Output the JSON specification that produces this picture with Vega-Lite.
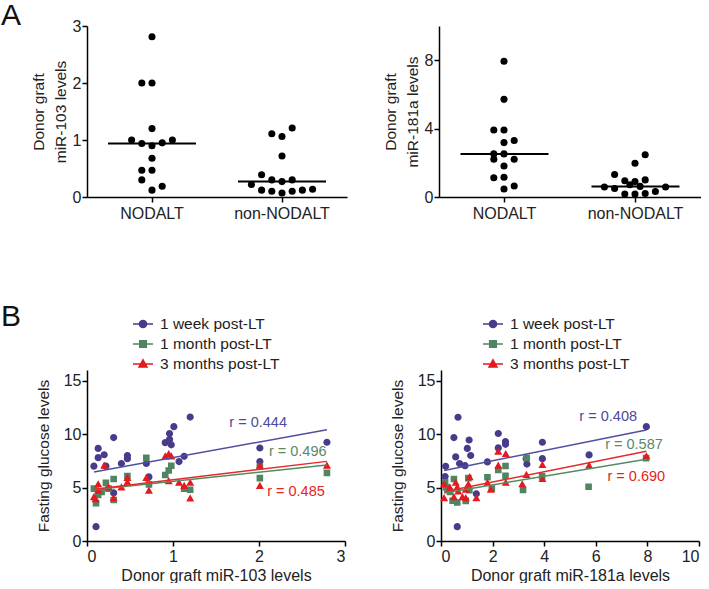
{
  "$schema": "https://vega.github.io/schema/vega-lite/v6.json",
  "padding": {"left": 1, "top": 1, "right": 0, "bottom": 0},
  "bounds": "flush",
  "config": {
    "font": "Liberation Sans",
    "view": {"stroke": null},
    "axis": {"domainColor": "#000", "domainWidth": 1.5, "tickColor": "#000", "tickWidth": 1.5, "tickSize": 5, "labelFontSize": 16, "labelColor": "#222", "titleFontSize": 15.5, "titleFontWeight": "normal", "titleColor": "#222", "grid": false, "labelFont": "Liberation Sans", "titleFont": "Liberation Sans", "labelOverlap": false},
    "title": {"fontSize": 30, "fontWeight": "normal", "font": "Liberation Sans", "color": "#111"},
    "legend": {"labelFont": "Liberation Sans"}
  },
  "datasets": {
    "a103": [
      {"group": "NODALT", "value": 2.81, "col": 0},
      {"group": "NODALT", "value": 2.0, "col": -1},
      {"group": "NODALT", "value": 2.0, "col": 0},
      {"group": "NODALT", "value": 1.2, "col": 0},
      {"group": "NODALT", "value": 1.0, "col": -2},
      {"group": "NODALT", "value": 0.94, "col": -1},
      {"group": "NODALT", "value": 0.9, "col": 0},
      {"group": "NODALT", "value": 0.95, "col": 1},
      {"group": "NODALT", "value": 1.0, "col": 2},
      {"group": "NODALT", "value": 0.68, "col": 0},
      {"group": "NODALT", "value": 0.47, "col": -1},
      {"group": "NODALT", "value": 0.47, "col": 0},
      {"group": "NODALT", "value": 0.3, "col": -1},
      {"group": "NODALT", "value": 0.12, "col": 0},
      {"group": "NODALT", "value": 0.19, "col": 1},
      {"group": "non-NODALT", "value": 1.11, "col": -1},
      {"group": "non-NODALT", "value": 1.06, "col": 0},
      {"group": "non-NODALT", "value": 1.21, "col": 1},
      {"group": "non-NODALT", "value": 0.72, "col": 0},
      {"group": "non-NODALT", "value": 0.39, "col": -2},
      {"group": "non-NODALT", "value": 0.3, "col": -1},
      {"group": "non-NODALT", "value": 0.27, "col": 0},
      {"group": "non-NODALT", "value": 0.3, "col": 1},
      {"group": "non-NODALT", "value": 0.22, "col": -3},
      {"group": "non-NODALT", "value": 0.12, "col": -2},
      {"group": "non-NODALT", "value": 0.1, "col": -1},
      {"group": "non-NODALT", "value": 0.07, "col": 0},
      {"group": "non-NODALT", "value": 0.1, "col": 1},
      {"group": "non-NODALT", "value": 0.12, "col": 2},
      {"group": "non-NODALT", "value": 0.135, "col": 3}
    ],
    "a181": [
      {"group": "NODALT", "value": 7.94, "col": 0},
      {"group": "NODALT", "value": 5.71, "col": 0},
      {"group": "NODALT", "value": 3.92, "col": -1},
      {"group": "NODALT", "value": 3.92, "col": 0},
      {"group": "NODALT", "value": 3.18, "col": 0},
      {"group": "NODALT", "value": 3.3, "col": 1},
      {"group": "NODALT", "value": 2.52, "col": -1},
      {"group": "NODALT", "value": 2.52, "col": 0},
      {"group": "NODALT", "value": 2.21, "col": -1},
      {"group": "NODALT", "value": 2.21, "col": 1},
      {"group": "NODALT", "value": 1.81, "col": 0},
      {"group": "NODALT", "value": 1.13, "col": -1},
      {"group": "NODALT", "value": 1.15, "col": 0},
      {"group": "NODALT", "value": 0.47, "col": 0},
      {"group": "NODALT", "value": 0.64, "col": 1},
      {"group": "non-NODALT", "value": 2.47, "col": 1},
      {"group": "non-NODALT", "value": 1.97, "col": 0},
      {"group": "non-NODALT", "value": 1.32, "col": -2},
      {"group": "non-NODALT", "value": 0.95, "col": -1},
      {"group": "non-NODALT", "value": 0.9, "col": 0},
      {"group": "non-NODALT", "value": 1.0, "col": 1},
      {"group": "non-NODALT", "value": 0.58, "col": -3},
      {"group": "non-NODALT", "value": 0.5, "col": -2},
      {"group": "non-NODALT", "value": 0.72, "col": -0.5},
      {"group": "non-NODALT", "value": 0.62, "col": 0.5},
      {"group": "non-NODALT", "value": 0.58, "col": 3},
      {"group": "non-NODALT", "value": 0.18, "col": -1},
      {"group": "non-NODALT", "value": 0.18, "col": 0},
      {"group": "non-NODALT", "value": 0.2, "col": 1},
      {"group": "non-NODALT", "value": 0.32, "col": 2}
    ],
    "bpts": [
      {"panel": "miR-103", "series": "1 week post-LT", "x": 0.08, "y": 7.0},
      {"panel": "miR-103", "series": "1 week post-LT", "x": 0.13, "y": 8.66},
      {"panel": "miR-103", "series": "1 week post-LT", "x": 0.13, "y": 7.8},
      {"panel": "miR-103", "series": "1 week post-LT", "x": 0.2, "y": 8.07},
      {"panel": "miR-103", "series": "1 week post-LT", "x": 0.22, "y": 7.0},
      {"panel": "miR-103", "series": "1 week post-LT", "x": 0.31, "y": 9.68},
      {"panel": "miR-103", "series": "1 week post-LT", "x": 0.4, "y": 7.25},
      {"panel": "miR-103", "series": "1 week post-LT", "x": 0.47, "y": 8.0},
      {"panel": "miR-103", "series": "1 week post-LT", "x": 0.47, "y": 7.7},
      {"panel": "miR-103", "series": "1 week post-LT", "x": 0.69, "y": 7.25},
      {"panel": "miR-103", "series": "1 week post-LT", "x": 0.72, "y": 6.0},
      {"panel": "miR-103", "series": "1 week post-LT", "x": 0.91, "y": 9.2},
      {"panel": "miR-103", "series": "1 week post-LT", "x": 0.96, "y": 9.5},
      {"panel": "miR-103", "series": "1 week post-LT", "x": 0.96, "y": 10.05},
      {"panel": "miR-103", "series": "1 week post-LT", "x": 0.98, "y": 9.0},
      {"panel": "miR-103", "series": "1 week post-LT", "x": 1.01, "y": 10.7},
      {"panel": "miR-103", "series": "1 week post-LT", "x": 1.07, "y": 7.43},
      {"panel": "miR-103", "series": "1 week post-LT", "x": 1.13, "y": 7.92},
      {"panel": "miR-103", "series": "1 week post-LT", "x": 1.2, "y": 11.6},
      {"panel": "miR-103", "series": "1 week post-LT", "x": 0.105, "y": 1.34},
      {"panel": "miR-103", "series": "1 week post-LT", "x": 0.31, "y": 4.5},
      {"panel": "miR-103", "series": "1 week post-LT", "x": 2.01, "y": 8.7},
      {"panel": "miR-103", "series": "1 week post-LT", "x": 2.01, "y": 7.43},
      {"panel": "miR-103", "series": "1 week post-LT", "x": 2.79, "y": 9.24},
      {"panel": "miR-103", "series": "1 month post-LT", "x": 0.08, "y": 4.9},
      {"panel": "miR-103", "series": "1 month post-LT", "x": 0.105, "y": 3.54},
      {"panel": "miR-103", "series": "1 month post-LT", "x": 0.13, "y": 4.3},
      {"panel": "miR-103", "series": "1 month post-LT", "x": 0.17, "y": 4.6},
      {"panel": "miR-103", "series": "1 month post-LT", "x": 0.22, "y": 5.44},
      {"panel": "miR-103", "series": "1 month post-LT", "x": 0.25, "y": 4.9},
      {"panel": "miR-103", "series": "1 month post-LT", "x": 0.31, "y": 5.8},
      {"panel": "miR-103", "series": "1 month post-LT", "x": 0.31, "y": 3.83},
      {"panel": "miR-103", "series": "1 month post-LT", "x": 0.47, "y": 6.08},
      {"panel": "miR-103", "series": "1 month post-LT", "x": 0.69, "y": 7.78},
      {"panel": "miR-103", "series": "1 month post-LT", "x": 0.72, "y": 5.3},
      {"panel": "miR-103", "series": "1 month post-LT", "x": 0.91, "y": 6.17},
      {"panel": "miR-103", "series": "1 month post-LT", "x": 0.95, "y": 6.6},
      {"panel": "miR-103", "series": "1 month post-LT", "x": 0.98, "y": 7.04},
      {"panel": "miR-103", "series": "1 month post-LT", "x": 1.13, "y": 4.9},
      {"panel": "miR-103", "series": "1 month post-LT", "x": 1.2, "y": 4.8},
      {"panel": "miR-103", "series": "1 month post-LT", "x": 2.01, "y": 5.88},
      {"panel": "miR-103", "series": "1 month post-LT", "x": 2.01, "y": 6.95},
      {"panel": "miR-103", "series": "1 month post-LT", "x": 2.79, "y": 6.37},
      {"panel": "miR-103", "series": "3 months post-LT", "x": 0.08, "y": 4.1},
      {"panel": "miR-103", "series": "3 months post-LT", "x": 0.1, "y": 3.9},
      {"panel": "miR-103", "series": "3 months post-LT", "x": 0.13, "y": 4.7},
      {"panel": "miR-103", "series": "3 months post-LT", "x": 0.13, "y": 5.3},
      {"panel": "miR-103", "series": "3 months post-LT", "x": 0.2, "y": 7.04},
      {"panel": "miR-103", "series": "3 months post-LT", "x": 0.25, "y": 5.0},
      {"panel": "miR-103", "series": "3 months post-LT", "x": 0.31, "y": 4.0},
      {"panel": "miR-103", "series": "3 months post-LT", "x": 0.4, "y": 5.0},
      {"panel": "miR-103", "series": "3 months post-LT", "x": 0.47, "y": 5.9},
      {"panel": "miR-103", "series": "3 months post-LT", "x": 0.47, "y": 5.5},
      {"panel": "miR-103", "series": "3 months post-LT", "x": 0.69, "y": 5.9},
      {"panel": "miR-103", "series": "3 months post-LT", "x": 0.72, "y": 4.7},
      {"panel": "miR-103", "series": "3 months post-LT", "x": 0.91, "y": 7.9},
      {"panel": "miR-103", "series": "3 months post-LT", "x": 0.95, "y": 8.13},
      {"panel": "miR-103", "series": "3 months post-LT", "x": 0.98, "y": 7.9},
      {"panel": "miR-103", "series": "3 months post-LT", "x": 0.95, "y": 5.6},
      {"panel": "miR-103", "series": "3 months post-LT", "x": 1.07, "y": 5.44},
      {"panel": "miR-103", "series": "3 months post-LT", "x": 1.13, "y": 5.15},
      {"panel": "miR-103", "series": "3 months post-LT", "x": 1.2, "y": 5.44},
      {"panel": "miR-103", "series": "3 months post-LT", "x": 1.2, "y": 3.97},
      {"panel": "miR-103", "series": "3 months post-LT", "x": 2.01, "y": 7.04},
      {"panel": "miR-103", "series": "3 months post-LT", "x": 2.01, "y": 5.15},
      {"panel": "miR-103", "series": "3 months post-LT", "x": 2.79, "y": 7.04},
      {"panel": "miR-181a", "series": "1 week post-LT", "x": 0.18, "y": 6.99},
      {"panel": "miR-181a", "series": "1 week post-LT", "x": 0.16, "y": 6.03},
      {"panel": "miR-181a", "series": "1 week post-LT", "x": 0.66, "y": 11.58},
      {"panel": "miR-181a", "series": "1 week post-LT", "x": 0.5, "y": 9.68},
      {"panel": "miR-181a", "series": "1 week post-LT", "x": 0.57, "y": 7.87},
      {"panel": "miR-181a", "series": "1 week post-LT", "x": 0.72, "y": 7.25},
      {"panel": "miR-181a", "series": "1 week post-LT", "x": 0.93, "y": 7.05},
      {"panel": "miR-181a", "series": "1 week post-LT", "x": 1.02, "y": 8.66},
      {"panel": "miR-181a", "series": "1 week post-LT", "x": 1.09, "y": 9.45},
      {"panel": "miR-181a", "series": "1 week post-LT", "x": 1.15, "y": 8.0},
      {"panel": "miR-181a", "series": "1 week post-LT", "x": 1.37, "y": 4.41},
      {"panel": "miR-181a", "series": "1 week post-LT", "x": 0.63, "y": 1.34},
      {"panel": "miR-181a", "series": "1 week post-LT", "x": 1.8, "y": 7.4},
      {"panel": "miR-181a", "series": "1 week post-LT", "x": 2.22, "y": 10.06},
      {"panel": "miR-181a", "series": "1 week post-LT", "x": 2.22, "y": 8.71},
      {"panel": "miR-181a", "series": "1 week post-LT", "x": 2.5, "y": 9.3},
      {"panel": "miR-181a", "series": "1 week post-LT", "x": 2.5, "y": 9.05},
      {"panel": "miR-181a", "series": "1 week post-LT", "x": 3.3, "y": 7.7},
      {"panel": "miR-181a", "series": "1 week post-LT", "x": 3.33, "y": 7.2},
      {"panel": "miR-181a", "series": "1 week post-LT", "x": 3.93, "y": 9.24},
      {"panel": "miR-181a", "series": "1 week post-LT", "x": 3.93, "y": 7.7},
      {"panel": "miR-181a", "series": "1 week post-LT", "x": 5.74, "y": 8.05},
      {"panel": "miR-181a", "series": "1 week post-LT", "x": 7.96, "y": 10.7},
      {"panel": "miR-181a", "series": "1 month post-LT", "x": 0.16, "y": 5.5},
      {"panel": "miR-181a", "series": "1 month post-LT", "x": 0.19, "y": 5.0},
      {"panel": "miR-181a", "series": "1 month post-LT", "x": 0.35, "y": 4.6},
      {"panel": "miR-181a", "series": "1 month post-LT", "x": 0.5, "y": 5.8},
      {"panel": "miR-181a", "series": "1 month post-LT", "x": 0.45, "y": 3.76},
      {"panel": "miR-181a", "series": "1 month post-LT", "x": 0.63, "y": 3.6},
      {"panel": "miR-181a", "series": "1 month post-LT", "x": 0.96, "y": 3.75},
      {"panel": "miR-181a", "series": "1 month post-LT", "x": 1.06, "y": 5.88},
      {"panel": "miR-181a", "series": "1 month post-LT", "x": 1.1, "y": 4.75},
      {"panel": "miR-181a", "series": "1 month post-LT", "x": 1.8, "y": 5.96},
      {"panel": "miR-181a", "series": "1 month post-LT", "x": 1.97, "y": 4.9},
      {"panel": "miR-181a", "series": "1 month post-LT", "x": 2.22, "y": 6.65},
      {"panel": "miR-181a", "series": "1 month post-LT", "x": 2.5, "y": 7.02},
      {"panel": "miR-181a", "series": "1 month post-LT", "x": 2.5, "y": 6.1},
      {"panel": "miR-181a", "series": "1 month post-LT", "x": 3.18, "y": 4.78},
      {"panel": "miR-181a", "series": "1 month post-LT", "x": 3.32, "y": 7.78},
      {"panel": "miR-181a", "series": "1 month post-LT", "x": 3.92, "y": 6.05},
      {"panel": "miR-181a", "series": "1 month post-LT", "x": 5.72, "y": 5.08},
      {"panel": "miR-181a", "series": "1 month post-LT", "x": 7.95, "y": 7.75},
      {"panel": "miR-181a", "series": "3 months post-LT", "x": 0.12, "y": 5.3},
      {"panel": "miR-181a", "series": "3 months post-LT", "x": 0.12, "y": 4.0},
      {"panel": "miR-181a", "series": "3 months post-LT", "x": 0.34, "y": 5.0},
      {"panel": "miR-181a", "series": "3 months post-LT", "x": 0.5, "y": 4.1},
      {"panel": "miR-181a", "series": "3 months post-LT", "x": 0.57, "y": 5.44},
      {"panel": "miR-181a", "series": "3 months post-LT", "x": 0.63, "y": 5.0},
      {"panel": "miR-181a", "series": "3 months post-LT", "x": 0.67, "y": 4.62},
      {"panel": "miR-181a", "series": "3 months post-LT", "x": 0.83, "y": 4.1},
      {"panel": "miR-181a", "series": "3 months post-LT", "x": 0.96, "y": 4.0},
      {"panel": "miR-181a", "series": "3 months post-LT", "x": 0.96, "y": 4.8},
      {"panel": "miR-181a", "series": "3 months post-LT", "x": 1.06, "y": 5.3},
      {"panel": "miR-181a", "series": "3 months post-LT", "x": 1.11, "y": 5.96},
      {"panel": "miR-181a", "series": "3 months post-LT", "x": 1.37, "y": 4.0},
      {"panel": "miR-181a", "series": "3 months post-LT", "x": 1.8, "y": 5.44},
      {"panel": "miR-181a", "series": "3 months post-LT", "x": 1.93, "y": 4.8},
      {"panel": "miR-181a", "series": "3 months post-LT", "x": 2.22, "y": 8.36},
      {"panel": "miR-181a", "series": "3 months post-LT", "x": 2.22, "y": 7.05},
      {"panel": "miR-181a", "series": "3 months post-LT", "x": 2.51, "y": 8.13},
      {"panel": "miR-181a", "series": "3 months post-LT", "x": 2.51, "y": 5.44},
      {"panel": "miR-181a", "series": "3 months post-LT", "x": 3.15, "y": 5.3},
      {"panel": "miR-181a", "series": "3 months post-LT", "x": 3.31, "y": 6.17},
      {"panel": "miR-181a", "series": "3 months post-LT", "x": 3.93, "y": 7.1},
      {"panel": "miR-181a", "series": "3 months post-LT", "x": 3.93, "y": 5.79},
      {"panel": "miR-181a", "series": "3 months post-LT", "x": 5.74, "y": 7.05},
      {"panel": "miR-181a", "series": "3 months post-LT", "x": 7.96, "y": 7.92}
    ],
    "fits": [
      {"panel": "miR-103", "series": "1 week post-LT", "x": 0.08, "y": 6.46},
      {"panel": "miR-103", "series": "1 week post-LT", "x": 2.79, "y": 10.41},
      {"panel": "miR-103", "series": "1 month post-LT", "x": 0.08, "y": 4.8},
      {"panel": "miR-103", "series": "1 month post-LT", "x": 2.79, "y": 7.12},
      {"panel": "miR-103", "series": "3 months post-LT", "x": 0.08, "y": 4.85},
      {"panel": "miR-103", "series": "3 months post-LT", "x": 2.79, "y": 7.45},
      {"panel": "miR-181a", "series": "1 week post-LT", "x": 0.12, "y": 6.6},
      {"panel": "miR-181a", "series": "1 week post-LT", "x": 7.96, "y": 10.38},
      {"panel": "miR-181a", "series": "1 month post-LT", "x": 0.12, "y": 4.5},
      {"panel": "miR-181a", "series": "1 month post-LT", "x": 7.96, "y": 7.65},
      {"panel": "miR-181a", "series": "3 months post-LT", "x": 0.12, "y": 4.6},
      {"panel": "miR-181a", "series": "3 months post-LT", "x": 7.96, "y": 8.4}
    ],
    "rlab": [
      {"panel": "miR-103", "series": "1 week post-LT", "x": 1.99, "y": 11.0, "label": "r = 0.444"},
      {"panel": "miR-103", "series": "1 month post-LT", "x": 2.45, "y": 8.36, "label": "r = 0.496"},
      {"panel": "miR-103", "series": "3 months post-LT", "x": 2.43, "y": 4.63, "label": "r = 0.485"},
      {"panel": "miR-181a", "series": "1 week post-LT", "x": 6.48, "y": 11.56, "label": "r = 0.408"},
      {"panel": "miR-181a", "series": "1 month post-LT", "x": 7.48, "y": 8.94, "label": "r = 0.587"},
      {"panel": "miR-181a", "series": "3 months post-LT", "x": 7.57, "y": 6.03, "label": "r = 0.690"}
    ]
  },
  "spacing": 344,
  "vconcat": [
    {
      "bounds": "flush",
      "spacing": 92,
      "hconcat": [
        {
          "width": 260, "height": 171,
          "title": {"text": "A", "orient": "top", "frame": "group", "anchor": "start", "align": "left", "baseline": "alphabetic", "offset": -31, "dx": -86, "dy": 6},
          "data": {"name": "a103"},
          "layer": [
            {
              "mark": {"type": "circle", "size": 50, "color": "#000", "opacity": 1},
              "encoding": {
                "x": {"field": "group", "type": "nominal", "sort": ["NODALT", "non-NODALT"], "scale": {"paddingInner": 0, "paddingOuter": 0}, "axis": {"title": null, "labelAngle": 0, "labelPadding": 3}},
                "xOffset": {"field": "col", "type": "quantitative", "scale": {"domain": [-6.375, 6.375]}},
                "y": {"field": "value", "type": "quantitative", "scale": {"domain": [0, 3]}, "axis": {"values": [0, 1, 2, 3], "format": "d", "title": ["Donor graft", "miR-103 levels"], "titleLineHeight": 22, "labelPadding": 1, "titlePadding": 4}}
              }
            },
            {
              "mark": {"type": "tick", "color": "#000", "thickness": 2, "size": 88},
              "encoding": {
                "x": {"field": "group", "type": "nominal", "sort": ["NODALT", "non-NODALT"]},
                "y": {"aggregate": "median", "field": "value", "type": "quantitative"}
              }
            }
          ]
        },
        {
          "width": 262, "height": 171,
          "data": {"name": "a181"},
          "layer": [
            {
              "mark": {"type": "circle", "size": 50, "color": "#000", "opacity": 1},
              "encoding": {
                "x": {"field": "group", "type": "nominal", "sort": ["NODALT", "non-NODALT"], "scale": {"paddingInner": 0, "paddingOuter": 0}, "axis": {"title": null, "labelAngle": 0, "labelPadding": 3}},
                "xOffset": {"field": "col", "type": "quantitative", "scale": {"domain": [-6.375, 6.375]}},
                "y": {"field": "value", "type": "quantitative", "scale": {"domain": [0, 10]}, "axis": {"values": [0, 2, 4, 6, 8, 10], "format": "d", "title": ["Donor graft", "miR-181a levels"], "titleLineHeight": 22, "labelPadding": 1, "titlePadding": 4}}
              }
            },
            {
              "mark": {"type": "tick", "color": "#000", "thickness": 2, "size": 88},
              "encoding": {
                "x": {"field": "group", "type": "nominal", "sort": ["NODALT", "non-NODALT"]},
                "y": {"aggregate": "median", "field": "value", "type": "quantitative"}
              }
            }
          ]
        }
      ]
    },
    {
      "bounds": "flush",
      "spacing": 96,
      "resolve": {"scale": {"color": "independent", "shape": "independent", "stroke": "independent"}},
      "hconcat": [
        {
          "width": 258, "height": 171,
          "title": {"text": "B", "orient": "top", "frame": "group", "anchor": "start", "align": "left", "baseline": "alphabetic", "offset": -30, "dx": -86, "dy": 13},
          "layer": [
            {
              "data": {"name": "bpts"},
              "transform": [{"filter": "datum.panel === 'miR-103'"}],
              "mark": {"type": "point", "filled": true, "opacity": 1, "size": 400},
              "encoding": {
                "x": {"field": "x", "type": "quantitative", "scale": {"domain": [0, 3]}, "axis": {"values": [0, 1, 2, 3], "format": "d", "title": "Donor graft miR-103 levels", "labelPadding": 2, "titlePadding": 3, "titleFontSize": 16}},
                "y": {"field": "y", "type": "quantitative", "scale": {"domain": [0, 15]}, "axis": {"values": [0, 5, 10, 15], "format": "d", "title": "Fasting glucose levels", "labelPadding": 1, "titlePadding": 12}},
                "color": {"field": "series", "type": "nominal", "scale": {"domain": ["1 week post-LT", "1 month post-LT", "3 months post-LT"], "range": ["#473c8b", "#4f8563", "#e5191f"]},
                  "legend": {"title": null, "orient": "none", "legendX": 45, "legendY": -57, "symbolSize": 400, "labelFontSize": 15.5, "labelColor": "#222", "labelOffset": 6, "rowPadding": 0, "padding": 0, "symbolStrokeWidth": 1.5}},
                "stroke": {"field": "series", "type": "nominal", "scale": {"domain": ["1 week post-LT", "1 month post-LT", "3 months post-LT"], "range": ["#473c8b", "#4f8563", "#e5191f"]},
                  "legend": {"title": null, "orient": "none", "legendX": 45, "legendY": -57, "symbolSize": 400, "labelFontSize": 15.5, "labelColor": "#222", "labelOffset": 6, "rowPadding": 0, "padding": 0, "symbolStrokeWidth": 1.5}},
                "shape": {"field": "series", "type": "nominal", "scale": {"domain": ["1 week post-LT", "1 month post-LT", "3 months post-LT"], "range": ["M-1,0H1M0.36,0A0.36,0.36,0,1,1,-0.36,0A0.36,0.36,0,1,1,0.36,0Z", "M-1,0H1M-0.33,-0.33H0.33V0.33H-0.33Z", "M-1,0H1M0,-0.42L0.4,0.3H-0.4Z"]},
                  "legend": {"title": null, "orient": "none", "legendX": 45, "legendY": -57, "symbolSize": 400, "labelFontSize": 15.5, "labelColor": "#222", "labelOffset": 6, "rowPadding": 0, "padding": 0, "symbolStrokeWidth": 1.5}},
                "strokeWidth": {"value": 0}
              }
            },
            {
              "data": {"name": "fits"},
              "transform": [{"filter": "datum.panel === 'miR-103'"}],
              "mark": {"type": "line", "strokeWidth": 1.5},
              "encoding": {
                "x": {"field": "x", "type": "quantitative"},
                "y": {"field": "y", "type": "quantitative"},
                "detail": {"field": "series", "type": "nominal"},
                "color": {"condition": [{"test": "datum.series === '1 week post-LT'", "value": "#4f4f9f"}, {"test": "datum.series === '1 month post-LT'", "value": "#558a63"}], "value": "#e62a2a"}
              }
            },
            {
              "data": {"name": "rlab"},
              "transform": [{"filter": "datum.panel === 'miR-103'"}],
              "mark": {"type": "text", "fontSize": 14.5, "font": "Liberation Sans"},
              "encoding": {
                "x": {"field": "x", "type": "quantitative"},
                "y": {"field": "y", "type": "quantitative"},
                "text": {"field": "label"},
                "color": {"condition": [{"test": "datum.series === '1 week post-LT'", "value": "#4b4ba0"}, {"test": "datum.series === '1 month post-LT'", "value": "#5a8a65"}], "value": "#e52521"}
              }
            }
          ]
        },
        {
          "width": 258, "height": 171,
          "layer": [
            {
              "data": {"name": "bpts"},
              "transform": [{"filter": "datum.panel === 'miR-181a'"}],
              "mark": {"type": "point", "filled": true, "opacity": 1, "size": 400},
              "encoding": {
                "x": {"field": "x", "type": "quantitative", "scale": {"domain": [0, 10]}, "axis": {"values": [0, 2, 4, 6, 8, 10], "format": "d", "title": "Donor graft miR-181a levels", "labelPadding": 2, "titlePadding": 3, "titleFontSize": 16}},
                "y": {"field": "y", "type": "quantitative", "scale": {"domain": [0, 15]}, "axis": {"values": [0, 5, 10, 15], "format": "d", "title": "Fasting glucose levels", "labelPadding": 1, "titlePadding": 12}},
                "color": {"field": "series", "type": "nominal", "scale": {"domain": ["1 week post-LT", "1 month post-LT", "3 months post-LT"], "range": ["#473c8b", "#4f8563", "#e5191f"]},
                  "legend": {"title": null, "orient": "none", "legendX": 41, "legendY": -57, "symbolSize": 400, "labelFontSize": 15.5, "labelColor": "#222", "labelOffset": 6, "rowPadding": 0, "padding": 0, "symbolStrokeWidth": 1.5}},
                "stroke": {"field": "series", "type": "nominal", "scale": {"domain": ["1 week post-LT", "1 month post-LT", "3 months post-LT"], "range": ["#473c8b", "#4f8563", "#e5191f"]},
                  "legend": {"title": null, "orient": "none", "legendX": 41, "legendY": -57, "symbolSize": 400, "labelFontSize": 15.5, "labelColor": "#222", "labelOffset": 6, "rowPadding": 0, "padding": 0, "symbolStrokeWidth": 1.5}},
                "shape": {"field": "series", "type": "nominal", "scale": {"domain": ["1 week post-LT", "1 month post-LT", "3 months post-LT"], "range": ["M-1,0H1M0.36,0A0.36,0.36,0,1,1,-0.36,0A0.36,0.36,0,1,1,0.36,0Z", "M-1,0H1M-0.33,-0.33H0.33V0.33H-0.33Z", "M-1,0H1M0,-0.42L0.4,0.3H-0.4Z"]},
                  "legend": {"title": null, "orient": "none", "legendX": 41, "legendY": -57, "symbolSize": 400, "labelFontSize": 15.5, "labelColor": "#222", "labelOffset": 6, "rowPadding": 0, "padding": 0, "symbolStrokeWidth": 1.5}},
                "strokeWidth": {"value": 0}
              }
            },
            {
              "data": {"name": "fits"},
              "transform": [{"filter": "datum.panel === 'miR-181a'"}],
              "mark": {"type": "line", "strokeWidth": 1.5},
              "encoding": {
                "x": {"field": "x", "type": "quantitative"},
                "y": {"field": "y", "type": "quantitative"},
                "detail": {"field": "series", "type": "nominal"},
                "color": {"condition": [{"test": "datum.series === '1 week post-LT'", "value": "#4f4f9f"}, {"test": "datum.series === '1 month post-LT'", "value": "#558a63"}], "value": "#e62a2a"}
              }
            },
            {
              "data": {"name": "rlab"},
              "transform": [{"filter": "datum.panel === 'miR-181a'"}],
              "mark": {"type": "text", "fontSize": 14.5, "font": "Liberation Sans"},
              "encoding": {
                "x": {"field": "x", "type": "quantitative"},
                "y": {"field": "y", "type": "quantitative"},
                "text": {"field": "label"},
                "color": {"condition": [{"test": "datum.series === '1 week post-LT'", "value": "#4b4ba0"}, {"test": "datum.series === '1 month post-LT'", "value": "#5a8a65"}], "value": "#e52521"}
              }
            }
          ]
        }
      ]
    }
  ]
}
